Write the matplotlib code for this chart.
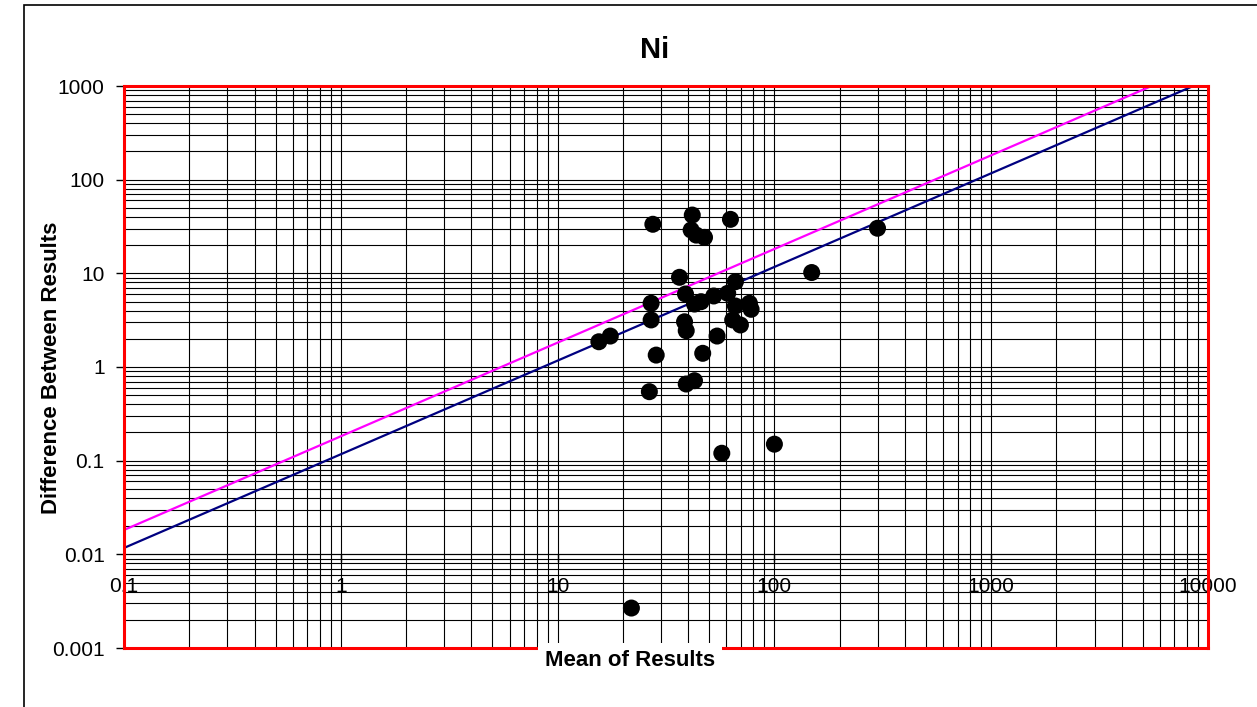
import matplotlib
matplotlib.use("Agg")
import matplotlib.pyplot as plt
from matplotlib.patches import Rectangle
from matplotlib.ticker import FixedLocator, FixedFormatter, NullLocator

plt.rcParams['font.family'] = ['Liberation Sans', 'DejaVu Sans']

# Data
mean_results = [41.8, 27.5, 62.7, 41.3, 43.6, 47.6, 148.6, 36.5, 66.1, 60.9,
                38.9, 52.5, 45.9, 42.8, 27.0, 76.7, 78.1, 66.1, 27.0, 38.5,
                39.2, 64.2, 69.7, 17.5, 15.5, 54.4, 28.5, 46.7, 39.2, 42.8,
                26.5, 57.2, 100.0, 21.9, 299.0]
diff_results = [41.9, 33.4, 37.7, 29.0, 25.6, 24.2, 10.2, 9.07, 8.14, 6.12,
                6.02, 5.73, 4.98, 4.70, 4.79, 4.79, 4.13, 4.48, 3.18, 3.04,
                2.44, 3.18, 2.81, 2.14, 1.86, 2.14, 1.34, 1.40, 0.658, 0.714,
                0.545, 0.120, 0.150, 0.00267, 30.3]

line_x = [0.1, 10000]
navy_y = [0.0117, 1170]
magenta_y = [0.0182, 1820]

x_ticks = [0.1, 1, 10, 100, 1000, 10000]
x_labels = ["0.1", "1", "10", "100", "1000", "10000"]
y_ticks = [0.001, 0.01, 0.1, 1, 10, 100, 1000]
y_labels = ["0.001", "0.01", "0.1", "1", "10", "100", "1000"]

W, H = 1257, 707
fig = plt.figure(figsize=(W / 100, H / 100), dpi=100)
ax = fig.add_axes([124 / W, 1 - 648 / H, (1208 - 124) / W, (648 - 86) / H])

ax.set_xscale('log')
ax.set_yscale('log')
ax.set_xlim(0.1, 10000)
ax.set_ylim(0.001, 1000)

# minor positions for gridlines (2..9 in each decade)
x_minor = [m * 10.0 ** e for e in range(-1, 4) for m in range(2, 10)]
y_minor = [m * 10.0 ** e for e in range(-3, 3) for m in range(2, 10)]

ax.xaxis.set_major_locator(FixedLocator(x_ticks))
ax.xaxis.set_minor_locator(FixedLocator(x_minor))
ax.yaxis.set_major_locator(FixedLocator(y_ticks))
ax.yaxis.set_major_formatter(FixedFormatter(y_labels))
ax.yaxis.set_minor_locator(FixedLocator(y_minor))

# gridlines
ax.grid(which='both', color='black', lw=0.8)
ax.set_axisbelow(True)

# lines and points
ax.plot(line_x, magenta_y, color='#FF00FF', lw=1.6, zorder=3)
ax.plot(line_x, navy_y, color='#000080', lw=1.6, zorder=3)
ax.scatter(mean_results, diff_results, s=150, color='black', zorder=4,
           edgecolors='none')

# red plot-area frame
for sp in ax.spines.values():
    sp.set_color('#FF0000')
    sp.set_linewidth(2.2)
    sp.set_zorder(5)

# y axis ticks
ax.tick_params(axis='y', which='major', direction='out', length=6,
               width=1, color='black', labelsize=15, pad=8)
ax.tick_params(axis='y', which='minor', length=0)
# main x axis: no ticks, labels drawn on crossing axis at y = 0.01
ax.tick_params(axis='x', which='both', length=0, labelbottom=False)

sec = ax.secondary_xaxis(1 / 6)
sec.set_xticks(x_ticks)
sec.set_xticklabels(x_labels)
sec.xaxis.set_minor_locator(NullLocator())
sec.tick_params(axis='x', direction='out', length=6, width=1,
                color='black', labelsize=15, pad=10)
sec.spines['bottom'].set_color('black')
sec.spines['bottom'].set_linewidth(0.8)

# titles
fig.text(655 / W, 1 - 50 / H, "Ni", fontsize=21, fontweight='bold',
         ha='center', va='center')
fig.text(630 / W, 1 - 660 / H, "Mean of Results", fontsize=16,
         fontweight='bold', ha='center', va='center',
         bbox=dict(facecolor='white', edgecolor='none', pad=5), zorder=10)
fig.text(52 / W, 1 - 368 / H, "Difference Between Results", fontsize=16,
         fontweight='bold', ha='center', va='center', rotation=90)

# chart border
fig.patches.append(Rectangle((24 / W, -0.1), 1.2, 1.1 - 5 / H,
                             transform=fig.transFigure, fill=False,
                             edgecolor='black', lw=1.2))

fig.savefig("out.png", dpi=100)
